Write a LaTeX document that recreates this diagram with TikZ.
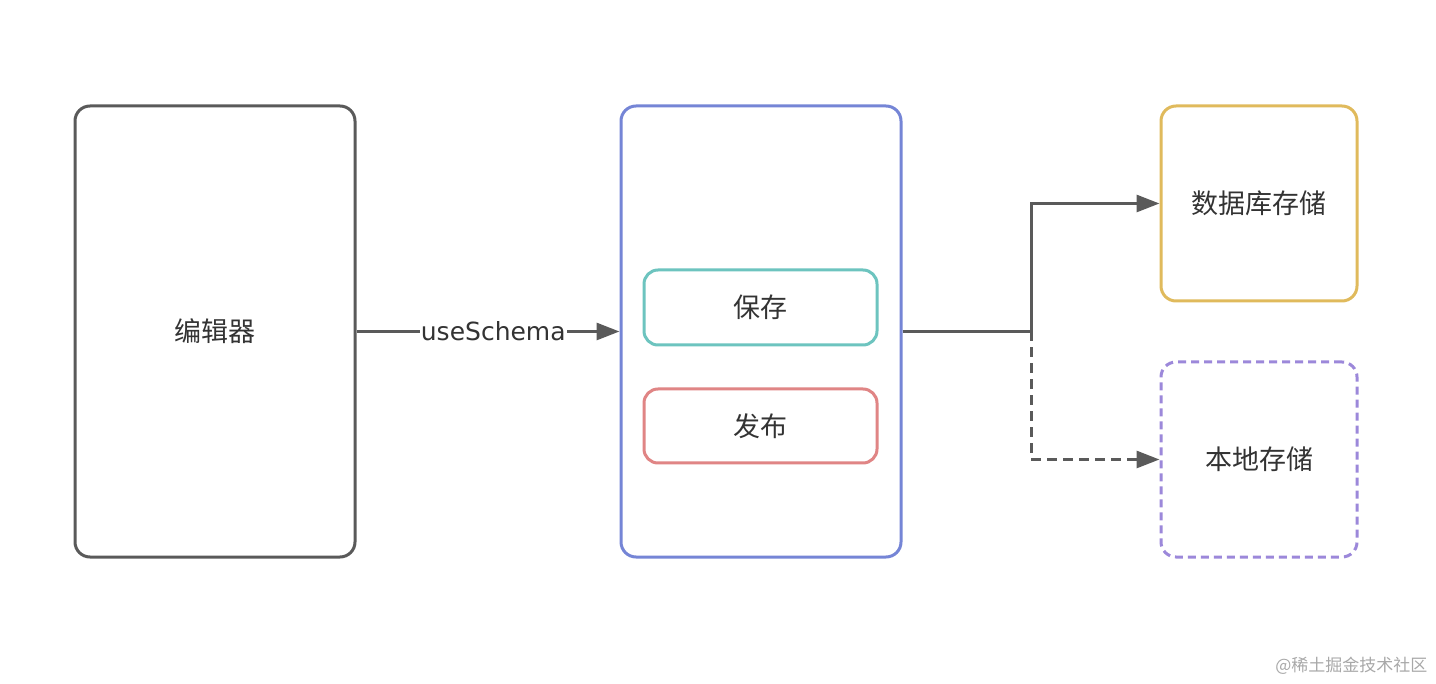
\documentclass[tikz,border=0pt]{standalone}
\usepackage{fontspec}
\setmainfont{DejaVu Sans}
\newfontfamily\cjk{Noto Sans CJK SC}
\usetikzlibrary{arrows.meta}
\definecolor{edgegray}{HTML}{5A5A5A}
\definecolor{txtgray}{HTML}{333333}
\definecolor{blueb}{HTML}{7585D6}
\definecolor{tealb}{HTML}{6DC4BF}
\definecolor{redb}{HTML}{E08585}
\definecolor{yellowb}{HTML}{E0BA5C}
\definecolor{purpleb}{HTML}{9C88DA}
\definecolor{wmgray}{HTML}{A8A8A8}
\tikzset{
  box/.style={draw, line width=3pt, rounded corners=15pt, fill=white, inner sep=0pt,
    font=\cjk\fontsize{27}{30}\selectfont, text=txtgray},
  conn/.style={draw=edgegray, line width=3pt, -{Triangle[length=23pt,width=17pt]}},
  dconn/.style={conn, dash pattern=on 10pt off 6pt},
  lbl/.style={fill=white, inner sep=1pt, font=\fontsize{25}{30}\selectfont, text=txtgray}
}
\begin{document}
\begin{tikzpicture}[x=1pt,y=-1pt]
\useasboundingbox (0,0) rectangle (1436,684);
\node[box, draw=edgegray, minimum width=280pt, minimum height=451pt] (editor) at (215,331.5) {编辑器};
\node[box, draw=blueb, minimum width=280pt, minimum height=451pt] (mid) at (761,331.5) {};
\node[box, draw=tealb, rounded corners=14pt, minimum width=233pt, minimum height=75pt] (save) at (760.5,307.5) {保存};
\node[box, draw=redb, rounded corners=14pt, minimum width=233pt, minimum height=74pt] (pub) at (760.5,426) {发布};
\node[box, draw=yellowb, minimum width=196pt, minimum height=195pt] (db) at (1259,203.5) {数据库存储};
\node[box, draw=purpleb, dash pattern=on 8pt off 5pt, minimum width=196pt, minimum height=195pt] (local) at (1259,459.5) {本地存储};
\coordinate (split) at (1031,331.5);
\draw[conn] (editor.east) -- node[lbl, pos=0.52] {useSchema} (mid.west);
\draw[edgegray, line width=3pt] (mid.east) -- (split);
\draw[conn] (split) |- (db.west);
\draw[dconn] (split) |- (local.west);
\node[font=\cjk\fontsize{17}{20}\selectfont, text=wmgray, anchor=east] (wm) at (1431,666) {@稀土掘金技术社区};
\end{tikzpicture}
\end{document}
